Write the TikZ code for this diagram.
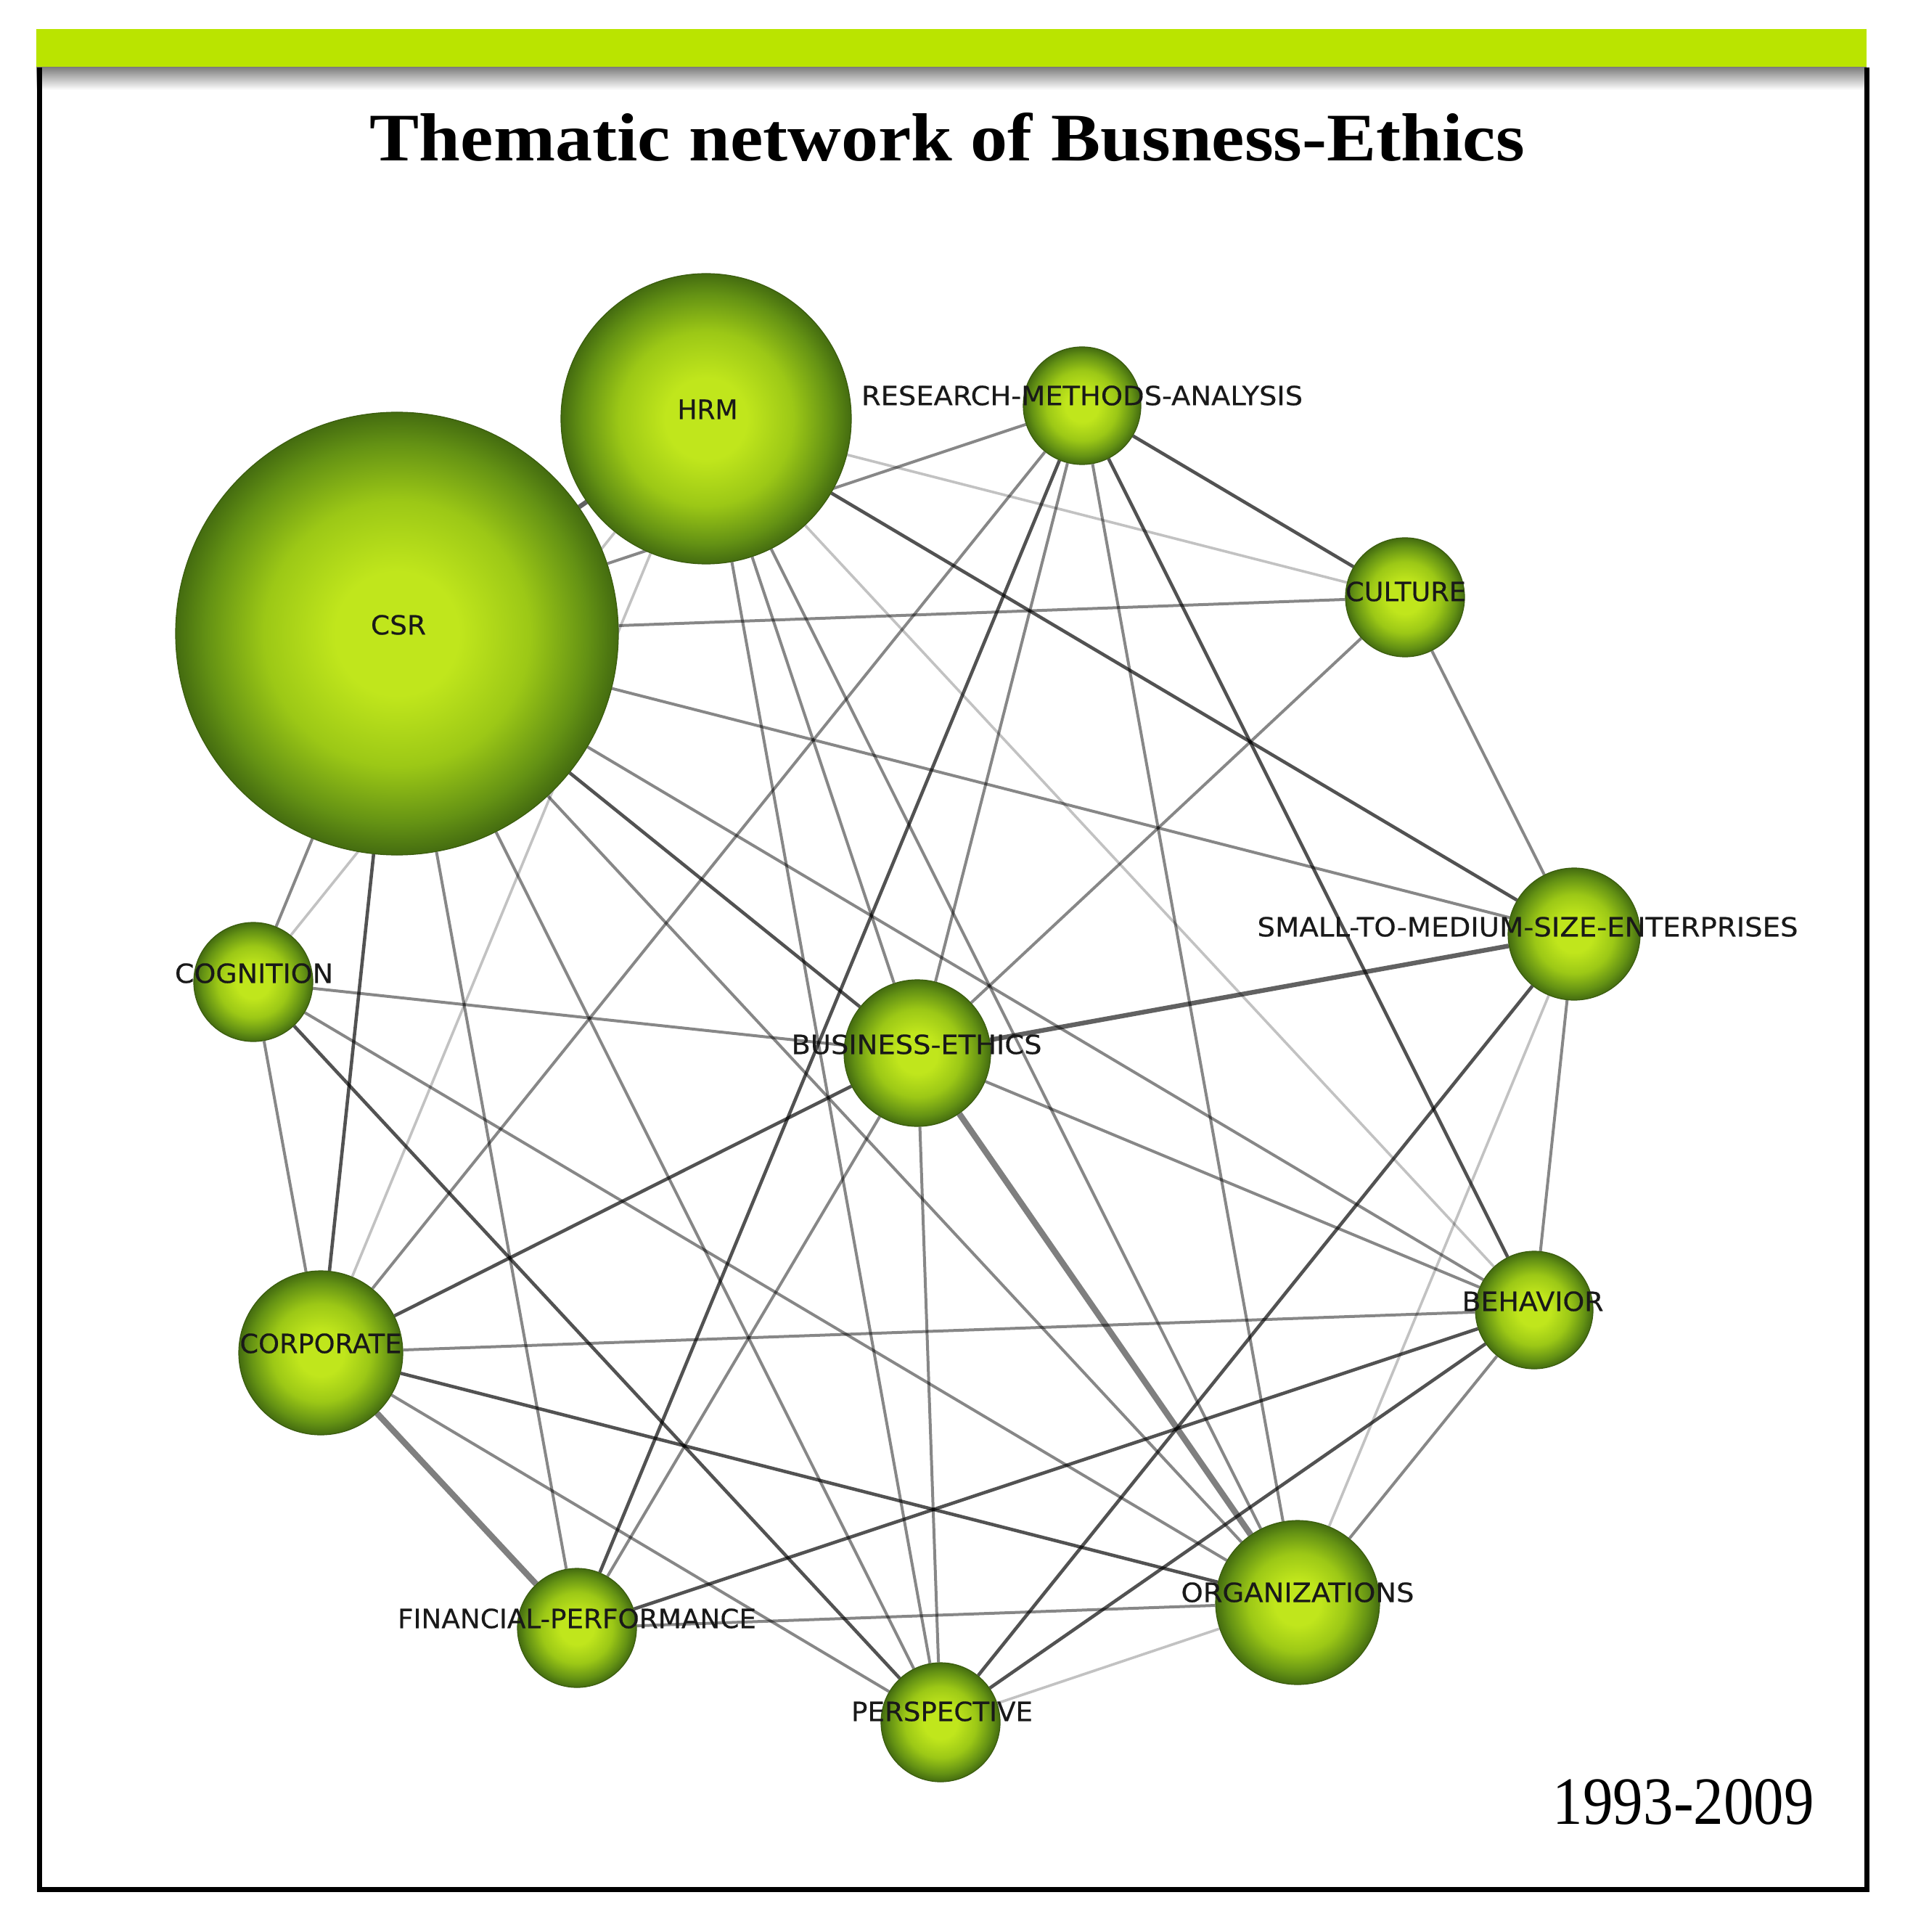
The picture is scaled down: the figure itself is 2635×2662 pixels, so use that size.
\documentclass[tikz,border=0pt]{standalone}
\usepackage{fontspec}
\usepackage{graphicx}
\setmainfont{Liberation Serif}
\newfontfamily\lblfont[FakeBold=0.4]{DejaVu Sans}
\definecolor{barlime}{RGB}{186,228,0}
\definecolor{ballc}{RGB}{192,230,28}
\definecolor{ballm}{RGB}{156,200,22}
\definecolor{ballq}{RGB}{100,146,20}
\definecolor{balle}{RGB}{68,108,16}
\pgfdeclareradialshading{ballshade}{\pgfpoint{0bp}{0bp}}{color(0bp)=(ballc); color(7bp)=(ballc); color(15bp)=(ballm); color(21.5bp)=(ballq); color(25bp)=(balle); color(50bp)=(balle)}
\pgfdeclarelayer{paper}
\pgfdeclarelayer{edges}
\pgfsetlayers{paper,edges,main}
\newcommand\nlab[2]{\resizebox{#1pt}{6.75pt}{\lblfont #2}}
\tikzset{
  ball/.style={circle, inner sep=0pt, shade, shading=ballshade, draw=balle!85!black, line width=0.3pt},
  lbl/.style={inner sep=0pt, text=black!90},
  elight/.style={draw=black, draw opacity=0.24, line width=0.9pt},
  emid/.style={draw=black, draw opacity=0.47, line width=1pt},
  edark/.style={draw=black, draw opacity=0.68, line width=1.15pt},
  ebold/.style={draw=black, draw opacity=0.62, line width=1.6pt},
  eheavy/.style={draw=black, draw opacity=0.5, line width=2.1pt}
}
\begin{document}
\begin{tikzpicture}[x=0.25pt,y=-0.25pt]
\useasboundingbox (0,0) rectangle (2635,2662);
\begin{pgfonlayer}{paper}
\fill[white] (0,0) rectangle (2635,2662);
\end{pgfonlayer}
% header bar and frame
\fill[barlime] (50,40) rectangle (2572,93);
\shade[top color=black!50, bottom color=white] (50,93) rectangle (2572,124);
\draw[line width=1.75pt, line join=miter] (54,93) -- (54,2603) -- (2572,2603) -- (2572,93);
% title and year
\node[anchor=south west, inner sep=0pt] (title) at (509,223) {\resizebox{397.75pt}{16.5pt}{\bfseries Thematic network of Busness-Ethics}};
\node[anchor=south west, inner sep=0pt] (year) at (2139,2515) {\resizebox{90pt}{15.5pt}{1993-2009}};
% nodes
\node[ball, minimum size=152.5pt] (CSR) at (547,873) {};
\node[ball, minimum size=100pt] (HRM) at (973,577) {};
\node[ball, minimum size=40.5pt] (RMA) at (1491,559) {};
\node[ball, minimum size=41pt] (CUL) at (1936,823) {};
\node[ball, minimum size=45.5pt] (SME) at (2169,1287) {};
\node[ball, minimum size=41pt] (COG) at (349,1353) {};
\node[ball, minimum size=50.5pt] (BE) at (1264,1451) {};
\node[ball, minimum size=56.5pt] (COR) at (442,1864) {};
\node[ball, minimum size=40.5pt] (BEH) at (2114,1805) {};
\node[ball, minimum size=56.5pt] (ORG) at (1788,2208) {};
\node[ball, minimum size=41pt] (FP) at (795,2243) {};
\node[ball, minimum size=41pt] (PER) at (1296,2373) {};
% labels
\node[lbl] (CSR-t) at (549,861) {\nlab{19}{CSR}};
\node[lbl] (HRM-t) at (975,564) {\nlab{20.75}{HRM}};
\node[lbl] (RMA-t) at (1491,545) {\nlab{152}{RESEARCH-METHODS-ANALYSIS}};
\node[lbl] (CUL-t) at (1937,815) {\nlab{41.5}{CULTURE}};
\node[lbl] (SME-t) at (2105,1277) {\nlab{186.25}{SMALL-TO-MEDIUM-SIZE-ENTERPRISES}};
\node[lbl] (COG-t) at (350,1341) {\nlab{54.5}{COGNITION}};
\node[lbl] (BE-t) at (1263,1439) {\nlab{86.25}{BUSINESS-ETHICS}};
\node[lbl] (COR-t) at (442,1851) {\nlab{55.75}{CORPORATE}};
\node[lbl] (BEH-t) at (2112,1793) {\nlab{48.75}{BEHAVIOR}};
\node[lbl] (ORG-t) at (1788,2194) {\nlab{80.25}{ORGANIZATIONS}};
\node[lbl] (FP-t) at (795,2230) {\nlab{123.5}{FINANCIAL-PERFORMANCE}};
\node[lbl] (PER-t) at (1298,2358) {\nlab{62.5}{PERSPECTIVE}};
% edges
\begin{pgfonlayer}{edges}
\draw[ebold] (CSR) -- (HRM);
\draw[emid] (CSR) -- (RMA);
\draw[emid] (CSR) -- (CUL);
\draw[emid] (CSR) -- (SME);
\draw[emid] (CSR) -- (COG);
\draw[edark] (CSR) -- (COR);
\draw[emid] (CSR) -- (FP);
\draw[emid] (CSR) -- (PER);
\draw[emid] (CSR) -- (ORG);
\draw[edark] (CSR) -- (BE);
\draw[emid] (CSR) -- (BEH);
\draw[elight] (HRM) -- (CUL);
\draw[edark] (HRM) -- (SME);
\draw[elight] (HRM) -- (BEH);
\draw[elight] (HRM) -- (COR);
\draw[elight] (HRM) -- (COG);
\draw[emid] (HRM) -- (PER);
\draw[emid] (HRM) -- (BE);
\draw[emid] (HRM) -- (ORG);
\draw[edark] (RMA) -- (CUL);
\draw[emid] (RMA) -- (COR);
\draw[edark] (RMA) -- (FP);
\draw[emid] (RMA) -- (BE);
\draw[emid] (RMA) -- (ORG);
\draw[edark] (RMA) -- (BEH);
\draw[emid] (CUL) -- (BE);
\draw[emid] (CUL) -- (SME);
\draw[ebold] (SME) -- (BE);
\draw[emid] (SME) -- (BEH);
\draw[elight] (SME) -- (ORG);
\draw[edark] (SME) -- (PER);
\draw[emid] (COG) -- (BE);
\draw[emid] (COG) -- (ORG);
\draw[edark] (COG) -- (PER);
\draw[emid] (COG) -- (COR);
\draw[edark] (BE) -- (COR);
\draw[emid] (BE) -- (BEH);
\draw[eheavy] (BE) -- (ORG);
\draw[emid] (BE) -- (PER);
\draw[emid] (BE) -- (FP);
\draw[emid] (COR) -- (BEH);
\draw[edark] (COR) -- (ORG);
\draw[eheavy] (COR) -- (FP);
\draw[emid] (COR) -- (PER);
\draw[edark] (BEH) -- (FP);
\draw[edark] (BEH) -- (PER);
\draw[emid] (BEH) -- (ORG);
\draw[emid] (ORG) -- (FP);
\draw[elight] (ORG) -- (PER);
\end{pgfonlayer}
\end{tikzpicture}
\end{document}
